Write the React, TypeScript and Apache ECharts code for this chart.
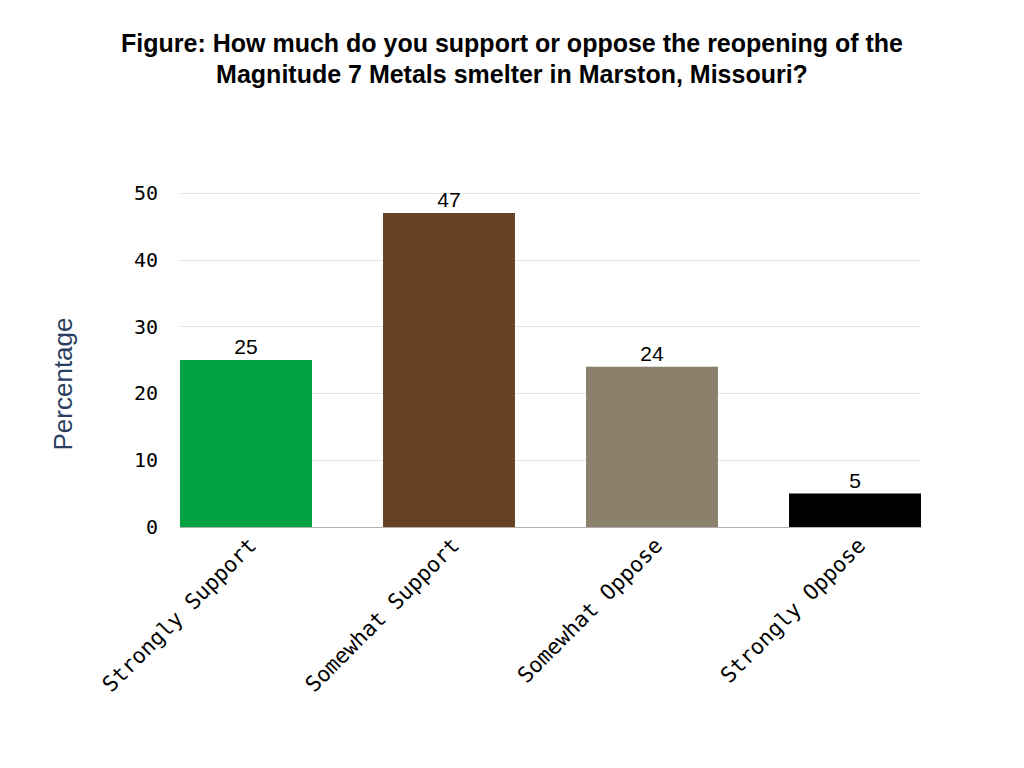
import React, { useEffect, useRef } from "react";
import * as echarts from "echarts";

const categories = ["Strongly Support", "Somewhat Support", "Somewhat Oppose", "Strongly Oppose"];
const values = [25, 47, 24, 5];
const barColors = ["#00a33f", "#654224", "#8a806b", "#000000"];
const yTicks = [0, 10, 20, 30, 40, 50];
const titleLines = [
  "Figure: How much do you support or oppose the reopening of the",
  "Magnitude 7 Metals smelter in Marston, Missouri?",
];
const yAxisTitle = "Percentage";

export default function App() {
  const ref = useRef<HTMLDivElement>(null);
  useEffect(() => {
    if (!ref.current) return;
    const chart = echarts.init(ref.current, null, { renderer: "svg" });
    const mono = "'DejaVu Sans Mono', monospace";
    const sans = "'Liberation Sans', Arial, sans-serif";
    chart.setOption({
      animation: false,
      backgroundColor: "#ffffff",
      graphic: [
        {
          type: "text",
          x: 512,
          y: 27,
          style: {
            text: titleLines.join("\n"),
            textAlign: "center",
            textVerticalAlign: "top",
            font: `bold 25px ${sans}`,
            lineHeight: 31,
            fill: "#000",
          },
        },
        {
          type: "text",
          x: 63,
          y: 384,
          rotation: Math.PI / 2,
          style: {
            text: yAxisTitle,
            textAlign: "center",
            textVerticalAlign: "middle",
            font: `26px ${sans}`,
            fill: "#2a3f5f",
          },
        },
      ],
      grid: [
        { left: 180, right: 103, top: 193, bottom: 241 },
        { left: 144.5, right: 67.5, top: 193, bottom: 241 },
      ],
      xAxis: [
        {
          gridIndex: 0,
          type: "value",
          min: 0,
          max: 1,
          axisLine: { show: true, lineStyle: { color: "#b0b0b0", width: 1 } },
          axisTick: { show: false },
          axisLabel: { show: false },
          splitLine: { show: false },
        },
        {
          gridIndex: 1,
          type: "category",
          data: categories,
          axisLine: { show: false },
          axisTick: { show: false },
          axisLabel: {
            rotate: 45,
            margin: 21,
            padding: [0, -9, 0, 0],
            fontFamily: mono,
            fontSize: 21.5,
            color: "#000",
          },
        },
      ],
      yAxis: [
        {
          gridIndex: 0,
          type: "value",
          min: 0,
          max: 50,
          interval: 10,
          axisLine: { show: false },
          axisTick: { show: false },
          axisLabel: {
            margin: 22,
            fontFamily: mono,
            fontSize: 20,
            color: "#000",
            formatter: (v: number) => (yTicks.includes(v) ? String(v) : ""),
          },
          splitLine: { show: true, lineStyle: { color: "#e3e3e3", width: 1 } },
        },
        {
          gridIndex: 1,
          type: "value",
          min: 0,
          max: 50,
          interval: 10,
          show: false,
          splitLine: { show: false },
        },
      ],
      series: [
        {
          type: "bar",
          xAxisIndex: 1,
          yAxisIndex: 1,
          barWidth: "65%",
          data: values.map((v, i) => ({ value: v, itemStyle: { color: barColors[i] } })),
          label: {
            show: true,
            position: "top",
            distance: 3,
            fontFamily: sans,
            fontSize: 21,
            color: "#000",
          },
          z: 3,
        },
      ],
    });
    return () => chart.dispose();
  }, []);
  return <div ref={ref} style={{ width: 1024, height: 768, position: "absolute", left: 0, top: 0 }} />;
}
